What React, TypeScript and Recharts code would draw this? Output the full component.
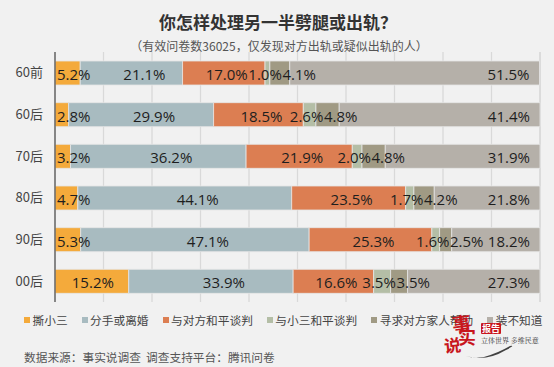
import React from 'react';
import { BarChart, Bar, XAxis, YAxis, CartesianGrid, LabelList } from 'recharts';

const categories = ['60前', '60后', '70后', '80后', '90后', '00后'];
const seriesNames = ['撕小三', '分手或离婚', '与对方和平谈判', '与小三和平谈判', '寻求对方家人帮助', '装不知道'];
const tearThird = [5.2, 2.8, 3.2, 4.7, 5.3, 15.2];
const breakUp = [21.1, 29.9, 36.2, 44.1, 47.1, 33.9];
const talkPartner = [17.0, 18.5, 21.9, 23.5, 25.3, 16.6];
const talkThird = [1.0, 2.6, 2.0, 1.7, 1.6, 3.5];
const seekFamily = [4.1, 4.8, 4.8, 4.2, 2.5, 3.5];
const pretend = [51.5, 41.4, 31.9, 21.8, 18.2, 27.3];
const xTicks = [0, 10, 20, 30, 40, 50, 60, 70, 80, 90, 100];

const colors = ['#f4aa3b', '#a8bbc0', '#dc7e52', '#b4bea6', '#a09a84', '#b5b0a9'];
const keys = ['s1', 's2', 's3', 's4', 's5', 's6'];

const seriesValues = [tearThird, breakUp, talkPartner, talkThird, seekFamily, pretend];
const data = categories.map((name, i) => {
  const row: any = { name };
  keys.forEach((k, j) => {
    row[k] = seriesValues[j][i];
  });
  return row;
});

const CJK = '"Noto Sans CJK SC", "Noto Sans", sans-serif';
const NUM = '"Open Sans", "Noto Sans", sans-serif';
const LABEL_SIZE = 15;

const fmt = (v: number) => v.toFixed(1) + '%';
const textWidth = (s: string) => {
  let w = 0;
  for (const c of s) {
    if (c === '.') w += 0.27;
    else if (c === '%') w += 0.823;
    else w += 0.572;
  }
  return w * LABEL_SIZE;
};

// lay out the labels of one row, from the segment start of series 0 and the pixel-per-unit scale
const rowLayout = (row: number, s0: number, ppu: number) => {
  const lefts: number[] = [];
  let start = s0;
  let prevEnd = -Infinity;
  for (let j = 0; j < seriesValues.length; j++) {
    const v = seriesValues[j][row];
    const w = v * ppu;
    const tw = textWidth(fmt(v));
    const c = start + w / 2;
    let left: number;
    if (j === 0) left = w < 40 ? start + 2 : c + 1 - tw / 2;
    else if (j === 1) left = c + 13 - tw / 2;
    else if (j === 2) left = c + 3 - tw / 2;
    else if (j === 3) left = c - 3 - tw / 2;
    else if (j === 4) left = c + 8 - tw / 2;
    else left = start + w - 10 - tw;
    if (left < prevEnd + 0.5) left = prevEnd + 0.5;
    lefts.push(left);
    prevEnd = left + tw;
    start += w;
  }
  return lefts;
};

const makeLabel = (j: number) => (props: any) => {
  const { x, y, width, height, value } = props;
  let index = props.index;
  if (index === undefined || index === null) {
    index = seriesValues[j].findIndex((v) => v === Number(value));
  }
  const v = Number(value);
  const w = Number(width);
  const ppu = v > 0 ? w / v : 0;
  let before = 0;
  for (let k = 0; k < j; k++) before += seriesValues[k][index];
  const s0 = Number(x) - before * ppu;
  const lefts = rowLayout(index, s0, ppu);
  const cy = Number(y) + Number(height) / 2 + 1;
  return (
    <text
      x={lefts[j]}
      y={cy}
      textAnchor="start"
      dominantBaseline="central"
      fontFamily={NUM}
      fontSize={LABEL_SIZE}
      fill="#1e1e1e"
    >
      {fmt(v)}
    </text>
  );
};

export default function App() {
  return (
    <div
      style={{
        position: 'absolute',
        left: 0,
        top: 0,
        width: 554,
        height: 367,
        background: '#f1f1f1',
        overflow: 'hidden',
      }}
    >
      <div
        style={{
          position: 'absolute',
          left: 0,
          top: 11,
          width: 556,
          textAlign: 'center',
          fontFamily: CJK,
          fontWeight: 700,
          fontSize: 17,
          lineHeight: '22px',
          color: '#333',
        }}
      >
        你怎样处理另一半劈腿或出轨？
      </div>
      <div
        style={{
          position: 'absolute',
          left: 0,
          top: 38,
          width: 558,
          textAlign: 'center',
          fontFamily: CJK,
          fontSize: 12,
          lineHeight: '16px',
          color: '#555',
        }}
      >
        （有效问卷数36025，仅发现对方出轨或疑似出轨的人）
      </div>
      <div style={{ position: 'absolute', left: 0, top: 0 }}>
        <BarChart
          width={554}
          height={367}
          data={data}
          layout="vertical"
          margin={{ top: 52, right: 14, bottom: 65, left: 0 }}
          barCategoryGap={0}
        >
          <CartesianGrid horizontal={false} stroke="#d9d9d9" strokeWidth={1.3} />
          <XAxis type="number" domain={[0, 100]} ticks={xTicks} hide />
          <YAxis
            type="category"
            dataKey="name"
            width={55}
            axisLine={{ stroke: '#555', strokeWidth: 1.3 }}
            tickLine={false}
            tickMargin={6}
            tick={{ fontSize: 13, fill: '#444', fontFamily: CJK }}
          />
          {keys.map((k, j) => (
            <Bar
              key={k}
              dataKey={k}
              name={seriesNames[j]}
              stackId="a"
              fill={colors[j]}
              stroke="#e6e6e6"
              strokeWidth={0.8}
              barSize={24}
              isAnimationActive={false}
            >
              <LabelList dataKey={k} content={makeLabel(j)} />
            </Bar>
          ))}
        </BarChart>
      </div>
      <div
        style={{
          position: 'absolute',
          left: 24,
          top: 311,
          display: 'flex',
          alignItems: 'center',
          fontFamily: CJK,
          fontSize: 11.7,
          lineHeight: '18px',
          color: '#444',
          whiteSpace: 'nowrap',
        }}
      >
        {seriesNames.map((n, j) => (
          <div key={n} style={{ display: 'flex', alignItems: 'center', marginRight: 14 }}>
            <span
              style={{
                display: 'inline-block',
                width: 6,
                height: 6,
                background: colors[j],
                marginRight: 2.5,
              }}
            />
            <span>{n}</span>
          </div>
        ))}
      </div>
      <div
        style={{
          position: 'absolute',
          left: 24,
          top: 348,
          fontFamily: CJK,
          fontSize: 11.7,
          lineHeight: '17px',
          color: '#555',
          whiteSpace: 'nowrap',
        }}
      >
        数据来源：事实说调查&nbsp;&nbsp;调查支持平台：腾讯问卷
      </div>
      <svg
        style={{ position: 'absolute', left: 440, top: 300 }}
        width={114}
        height={67}
      >
        <path d="M 26 56 Q 46 62 66 50 Q 76 45 70 46 Q 58 53 44 57 Q 34 59 26 56 Z" fill="#222" opacity={0.85} />
        <text x={12} y={31} fontFamily={CJK} fontWeight={700} fontSize={19} fill="#c8161d" transform="rotate(-8 22 22)">事</text>
        <text x={18} y={44} fontFamily={CJK} fontWeight={700} fontSize={18} fill="#c8161d">实</text>
        <text x={4} y={52} fontFamily={CJK} fontWeight={700} fontSize={17} fill="#c8161d" transform="rotate(-6 12 45)">说</text>
        <rect x={41} y={23} width={20} height={11} fill="#c8161d" rx={1} />
        <text x={51} y={31.5} textAnchor="middle" fontFamily={CJK} fontWeight={700} fontSize={9} fill="#fff">报告</text>
        <text x={41} y={43} fontFamily='"Noto Serif CJK SC", "Noto Sans CJK SC", serif' fontSize={7} fill="#333">立体世界 多维民意</text>
      </svg>
    </div>
  );
}
